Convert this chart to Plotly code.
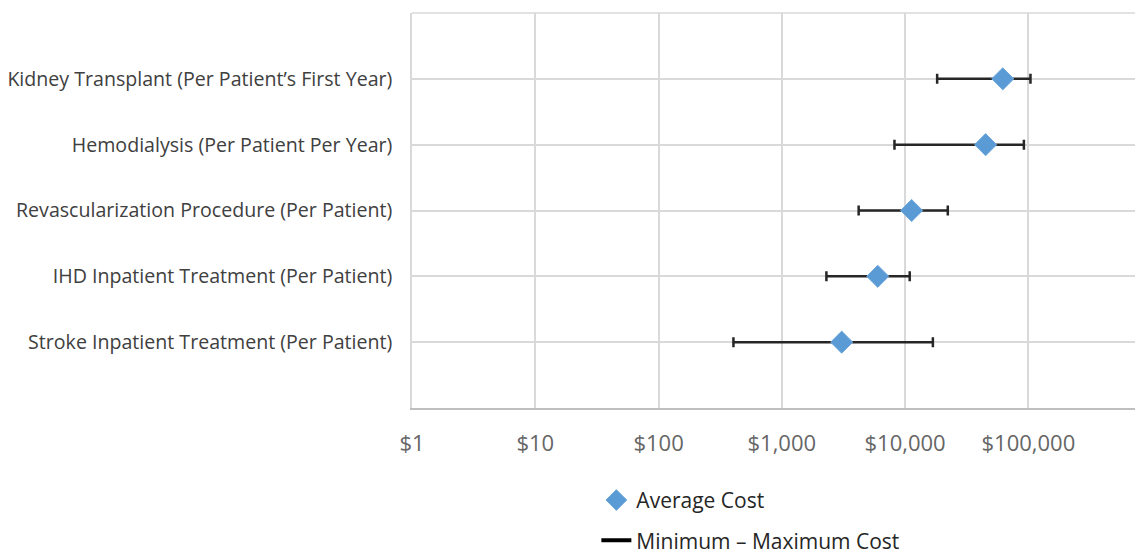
import plotly.graph_objects as go

# Cost categories, listed top to bottom
categories = [
    "Kidney Transplant (Per Patient\u2019s First Year)",
    "Hemodialysis (Per Patient Per Year)",
    "Revascularization Procedure (Per Patient)",
    "IHD Inpatient Treatment (Per Patient)",
    "Stroke Inpatient Treatment (Per Patient)",
]
avg_cost = [62000, 45000, 11300, 6000, 3060]
min_cost = [18200, 8200, 4200, 2300, 405]
max_cost = [104000, 92000, 22200, 10900, 16800]

tick_values = [1, 10, 100, 1000, 10000, 100000]
tick_labels = ["$1", "$10", "$100", "$1,000", "$10,000", "$100,000"]

err_plus = [hi - a for hi, a in zip(max_cost, avg_cost)]
err_minus = [a - lo for lo, a in zip(min_cost, avg_cost)]

FONT = "'Open Sans', Lato, sans-serif"

fig = go.Figure()

# Average cost diamonds with min-max whiskers
fig.add_trace(go.Scatter(
    x=avg_cost, y=categories, mode="markers", name="Average Cost",
    marker=dict(symbol="diamond", size=17, color="#5B9BD5",
                line=dict(color="#6FA8DC", width=1)),
    error_x=dict(type="data", symmetric=False, array=err_plus,
                 arrayminus=err_minus, color="#262626", thickness=2.5, width=5),
    legendgroup="a",
))

# Legend entry for the whisker range
fig.add_trace(go.Scatter(
    x=[None], y=[None], mode="lines", name="Minimum \u2013 Maximum Cost",
    line=dict(color="#000000", width=4),
    legendgroup="b",
))

fig.update_layout(
    width=1135, height=556,
    margin=dict(l=412, r=0, t=13, b=148, autoexpand=False),
    plot_bgcolor="white", paper_bgcolor="white",
    font=dict(family=FONT, color="#404040"),
    showlegend=True,
    legend=dict(
        x=0.255, y=-0.182, xanchor="left", yanchor="top",
        font=dict(size=21, color="#262626"),
        tracegroupgap=10, itemwidth=30,
        bgcolor="rgba(0,0,0,0)",
    ),
)

fig.update_xaxes(
    type="log", range=[0, 5.865],
    tickvals=tick_values, ticktext=tick_labels,
    tickfont=dict(size=22, color="#666666", family=FONT),
    showgrid=True, gridcolor="#D9D9D9", gridwidth=1.5,
    showline=True, linecolor="#BFBFBF", linewidth=2,
    mirror=False, ticks="", ticklabelstandoff=15, zeroline=False,
    automargin=False,
)

fig.update_yaxes(
    type="category", categoryorder="array", categoryarray=categories[::-1],
    range=[-1, 5],
    tickfont=dict(size=19.6, color="#404040", family=FONT),
    showgrid=True, gridcolor="#D9D9D9", gridwidth=1.5,
    showline=True, linecolor="#D9D9D9", linewidth=1.5,
    ticks="", ticklabelstandoff=14, zeroline=False,
    automargin=False,
)

# top frame line of the plot area
fig.add_shape(type="line", xref="paper", yref="paper", x0=0, x1=1, y0=1, y1=1,
              line=dict(color="#D9D9D9", width=1.5))

fig.write_html("out.html")
